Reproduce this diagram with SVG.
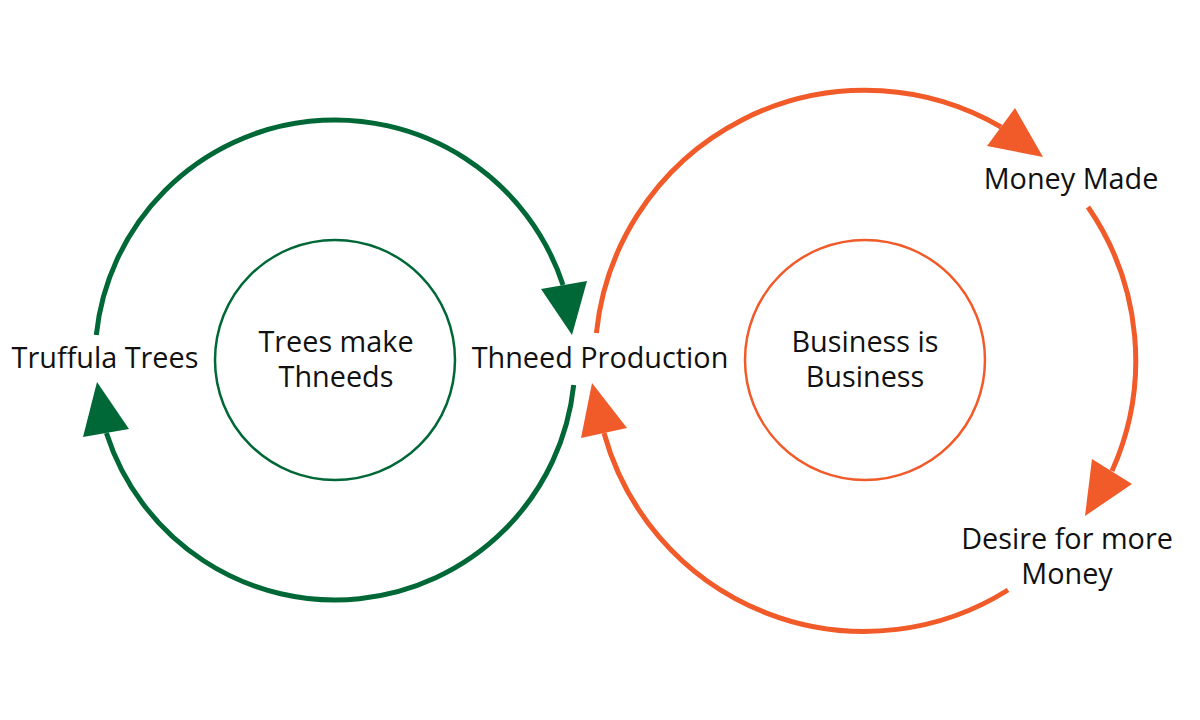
<svg xmlns="http://www.w3.org/2000/svg" width="1200" height="720" viewBox="0 0 1200 720">
<style>
.g{stroke:#006837;fill:none}
.o{stroke:#f15a29;fill:none}
.big{stroke-width:5}
.inner{stroke-width:2.5}
.gh{fill:#006837}
.oh{fill:#f15a29}
text{font-family:"Open Sans","Noto Sans","Liberation Sans",sans-serif;font-size:28.8px;fill:#111;text-anchor:middle}
</style>
<rect width="1200" height="720" fill="#fff"/>
<g id="connectors">
<path class="g big" d="M 96.3 335 A 240 240 0 0 1 563 285"/>
<polygon class="gh" points="572,335 541,289 587,281"/>
<path class="g big" d="M 573.7 385 A 240 240 0 0 1 106.4 433"/>
<polygon class="gh" points="97,382 83,437 129,429"/>
<path class="o big" d="M 596.4 333 A 270 270 0 0 1 1001 127"/>
<polygon class="oh" points="1043,157 987,146 1015,108"/>
<path class="o big" d="M 1088 207 A 270 270 0 0 1 1112 471"/>
<polygon class="oh" points="1085,516 1092,459 1132,484"/>
<path class="o big" d="M 1008 590 A 270 270 0 0 1 604 433"/>
<polygon class="oh" points="592,383 581,438 627,428"/>
</g>
<g id="trees-make-thneeds">
<circle class="g inner" cx="335" cy="360" r="120"/>
<text x="336" y="352">Trees make<tspan x="336" dy="35">Thneeds</tspan></text>
</g>
<g id="business-is-business">
<circle class="o inner" cx="865" cy="360" r="120"/>
<text x="865" y="352">Business is<tspan x="865" dy="35">Business</tspan></text>
</g>
<g id="truffula-trees"><text x="105" y="368">Truffula Trees</text></g>
<g id="thneed-production"><text x="600" y="368">Thneed Production</text></g>
<g id="money-made"><text x="1071" y="189">Money Made</text></g>
<g id="desire-for-more-money">
<text x="1067" y="549">Desire for more<tspan x="1067" dy="35">Money</tspan></text>
</g>
</svg>
